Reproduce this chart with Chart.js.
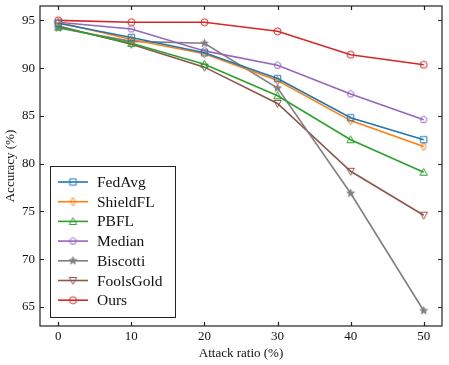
<!DOCTYPE html>
<html>
<head>
<meta charset="utf-8">
<script src="https://cdn.jsdelivr.net/npm/chart.js@4/dist/chart.umd.min.js"></script>
<style>
  html, body { margin: 0; padding: 0; background: #fff; }
  #wrap { width: 449px; height: 365px; }
</style>
</head>
<body>
<div id="wrap"><canvas id="acc-chart" width="449" height="365"></canvas></div>
<script>
const attackRatios = [0, 10, 20, 30, 40, 50];
const xTicks = [0, 10, 20, 30, 40, 50];
const yTicks = [65, 70, 75, 80, 85, 90, 95];

const fedAvg    = [94.7, 93.2, 91.6, 88.9, 84.8, 82.5];
const shieldFL  = [94.8, 93.0, 91.5, 88.7, 84.5, 81.8];
const pbfl      = [94.3, 92.6, 90.4, 87.1, 82.5, 79.1];
const median    = [94.8, 94.1, 91.8, 90.3, 87.3, 84.6];
const biscotti  = [94.2, 92.8, 92.6, 87.9, 76.9, 64.6];
const foolsGold = [94.4, 92.5, 90.1, 86.3, 79.2, 74.6];
const ours      = [95.0, 94.8, 94.8, 93.85, 91.4, 90.35];

const FONT = "'Liberation Serif', 'DejaVu Serif', serif";
const FRAME = "#222";

// marker images, roughly like the matplotlib ones
function marker(kind, color) {
    const c = document.createElement("canvas");
    c.width = 11; c.height = 11;
    const g = c.getContext("2d");
    const cx = 5.5, cy = 5.5;
    g.strokeStyle = color;
    g.fillStyle = color;
    g.lineWidth = 1.0;
    g.beginPath();
    if (kind === "square") {
        g.rect(cx - 3.2, cy - 3.2, 6.4, 6.4);
    } else if (kind === "thin_diamond") {
        g.moveTo(cx, cy - 4.2); g.lineTo(cx + 2.6, cy); g.lineTo(cx, cy + 4.2); g.lineTo(cx - 2.6, cy); g.closePath();
    } else if (kind === "triangle") {
        g.moveTo(cx, cy - 3.9); g.lineTo(cx + 3.7, cy + 3.0); g.lineTo(cx - 3.7, cy + 3.0); g.closePath();
    } else if (kind === "triangle_down") {
        g.moveTo(cx, cy + 3.9); g.lineTo(cx + 3.7, cy - 3.0); g.lineTo(cx - 3.7, cy - 3.0); g.closePath();
    } else if (kind === "pentagon") {
        for (let i = 0; i < 5; i++) {
            const a = -Math.PI / 2 + i * 2 * Math.PI / 5;
            const px = cx + 3.6 * Math.cos(a), py = cy + 3.6 * Math.sin(a);
            i ? g.lineTo(px, py) : g.moveTo(px, py);
        }
        g.closePath();
    } else if (kind === "star") {
        for (let i = 0; i < 10; i++) {
            const a = -Math.PI / 2 + i * Math.PI / 5;
            const r = i % 2 ? 1.6 : 4.0;
            const px = cx + r * Math.cos(a), py = cy + r * Math.sin(a);
            i ? g.lineTo(px, py) : g.moveTo(px, py);
        }
        g.closePath();
        g.fill();
    } else {
        g.arc(cx, cy, 3.5, 0, Math.PI * 2);
    }
    g.stroke();
    return c;
}

const series = [
    { label: "FedAvg",    values: fedAvg,    color: "#1f77b4", mk: "square" },
    { label: "ShieldFL",  values: shieldFL,  color: "#ff7f0e", mk: "thin_diamond" },
    { label: "PBFL",      values: pbfl,      color: "#2ca02c", mk: "triangle" },
    { label: "Median",    values: median,    color: "#9467bd", mk: "pentagon" },
    { label: "Biscotti",  values: biscotti,  color: "#7f7f7f", mk: "star" },
    { label: "FoolsGold", values: foolsGold, color: "#8c564b", mk: "triangle_down" },
    { label: "Ours",      values: ours,      color: "#d62728", mk: "circle" },
];

const datasets = series.map((s) => ({
    label: s.label,
    data: attackRatios.map((x, i) => ({ x: x, y: s.values[i] })),
    borderColor: s.color,
    backgroundColor: s.color,
    borderWidth: 1.6,
    pointStyle: marker(s.mk, s.color),
    pointRadius: 4,
    fill: false,
    tension: 0,
}));

// frame with inward ticks on all four sides + the legend box
const framePlugin = {
    id: "frame",
    afterDatasetsDraw(chart) {
        const ctx = chart.ctx;
        const a = chart.chartArea;
        const xs = chart.scales.x, ys = chart.scales.y;
        ctx.save();
        ctx.strokeStyle = FRAME;
        ctx.lineWidth = 1.2;
        ctx.beginPath();
        xTicks.forEach((v) => {
            const px = Math.round(xs.getPixelForValue(v)) + 0.5;
            ctx.moveTo(px, a.bottom); ctx.lineTo(px, a.bottom - 4);
            ctx.moveTo(px, a.top); ctx.lineTo(px, a.top + 4);
        });
        yTicks.forEach((v) => {
            const py = Math.round(ys.getPixelForValue(v)) + 0.5;
            ctx.moveTo(a.left, py); ctx.lineTo(a.left + 4, py);
            ctx.moveTo(a.right, py); ctx.lineTo(a.right - 4, py);
        });
        ctx.stroke();
        ctx.strokeRect(a.left, a.top, a.right - a.left, a.bottom - a.top);

        // legend
        const lx = a.left + 10, ly = a.top + 160, lw = 125, lh = 151;
        ctx.fillStyle = "#fff";
        ctx.fillRect(lx, ly, lw, lh);
        ctx.lineWidth = 1;
        ctx.strokeStyle = FRAME;
        ctx.strokeRect(lx + 0.5, ly + 0.5, lw, lh);
        ctx.font = "15.5px " + FONT;
        ctx.textBaseline = "middle";
        chart.data.datasets.forEach((d, i) => {
            const yy = ly + 16 + i * 19.7;
            ctx.strokeStyle = d.borderColor;
            ctx.lineWidth = 1.6;
            ctx.beginPath();
            ctx.moveTo(lx + 8, yy); ctx.lineTo(lx + 38, yy);
            ctx.stroke();
            const img = d.pointStyle;
            ctx.drawImage(img, lx + 23 - img.width / 2, yy - img.height / 2);
            ctx.fillStyle = "#111";
            ctx.fillText(d.label, lx + 47, yy + 1);
        });
        ctx.restore();
    },
};

function noPad(s) {
    s.paddingTop = 0; s.paddingBottom = 0;
    s.paddingLeft = 0; s.paddingRight = 0;
}

new Chart(document.getElementById("acc-chart"), {
    type: "line",
    data: { datasets: datasets },
    options: {
        responsive: false,
        animation: false,
        layout: { padding: { top: 6, right: 7, left: 0, bottom: 0 } },
        scales: {
            x: {
                type: "linear",
                min: -2.5,
                max: 52.5,
                afterBuildTicks: (s) => { s.ticks = xTicks.map((v) => ({ value: v })); },
                afterFit: (s) => { s.height = 39; noPad(s); },
                grid: { display: false, drawTicks: false },
                border: { display: false },
                ticks: { color: "#111", padding: 3, font: { family: FONT, size: 13 } },
                title: { display: true, text: "Attack ratio (%)", color: "#111", padding: { top: 0 }, font: { family: FONT, size: 13 } },
            },
            y: {
                min: 63,
                max: 96.5,
                afterBuildTicks: (s) => { s.ticks = yTicks.map((v) => ({ value: v })); },
                afterFit: (s) => { s.width = 40; noPad(s); },
                grid: { display: false, drawTicks: false },
                border: { display: false },
                ticks: { color: "#111", padding: 5, font: { family: FONT, size: 13 } },
                title: { display: true, text: "Accuracy (%)", color: "#111", padding: { top: 3, bottom: 0 }, font: { family: FONT, size: 13 } },
            },
        },
        plugins: {
            legend: { display: false },
            tooltip: { enabled: false },
        },
    },
    plugins: [framePlugin],
});
</script>
</body>
</html>
